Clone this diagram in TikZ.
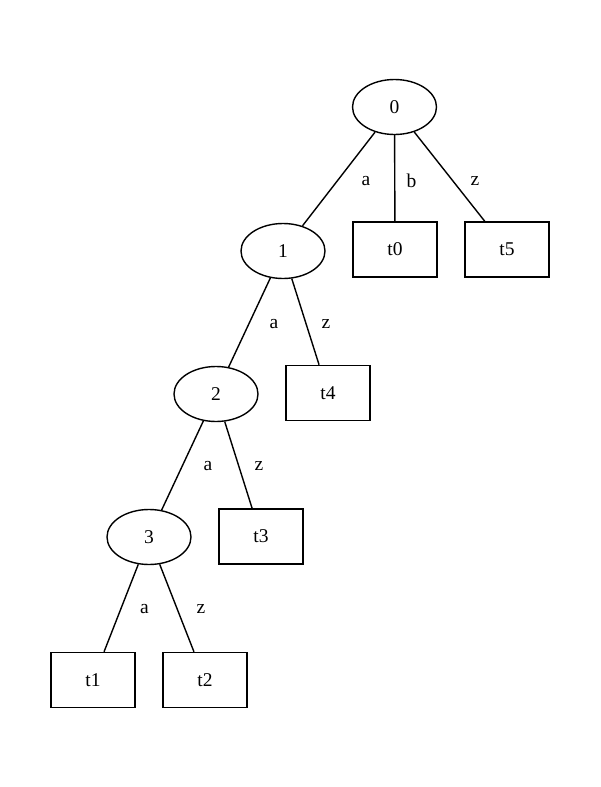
\documentclass[tikz,border=0pt]{standalone}
\usepackage{fontspec}
\setmainfont{Liberation Serif}
\usetikzlibrary{shapes.geometric}
\begin{document}
\begin{tikzpicture}[x=1pt,y=-1pt,
  every node/.style={font=\fontsize{19.5}{22}\selectfont, inner sep=0pt},
  state/.style={draw, line width=1.4pt, ellipse, minimum width=84pt, minimum height=55pt},
  leaf/.style={draw, line width=1.4pt, rectangle, minimum width=84pt, minimum height=55pt},
  edge/.style={line width=1.4pt},
  elabel/.style={}]
\useasboundingbox (0,0) rectangle (600,787);
\node[state] (n0) at (394.5,107) {0};
\node[state] (n1) at (283,251) {1};
\node[state] (n2) at (216,394) {2};
\node[state] (n3) at (149,537) {3};
\node[leaf] (t0) at (395,249.5) {t0};
\node[leaf] (t5) at (507,249.5) {t5};
\node[leaf] (t4) at (328,393) {t4};
\node[leaf] (t3) at (261,536.5) {t3};
\node[leaf] (t1) at (93,680) {t1};
\node[leaf] (t2) at (205,680) {t2};
\draw[edge] (n0) -- (n1);
\draw[edge] (n0) -- (t0);
\draw[edge] (n0) -- (t5);
\draw[edge] (n1) -- (n2);
\draw[edge] (n1) -- (t4);
\draw[edge] (n2) -- (n3);
\draw[edge] (n2) -- (t3);
\draw[edge] (n3) -- (t1);
\draw[edge] (n3) -- (t2);
\node[elabel] (la0) at (366,181) {a};
\node[elabel] (lb0) at (411.5,181) {b};
\node[elabel] (lz0) at (475,181) {z};
\node[elabel] (la1) at (274,324) {a};
\node[elabel] (lz1) at (326,324) {z};
\node[elabel] (la2) at (208,466.5) {a};
\node[elabel] (lz2) at (259,466.5) {z};
\node[elabel] (la3) at (144.5,609.5) {a};
\node[elabel] (lz3) at (201,609.5) {z};
\end{tikzpicture}
\end{document}
